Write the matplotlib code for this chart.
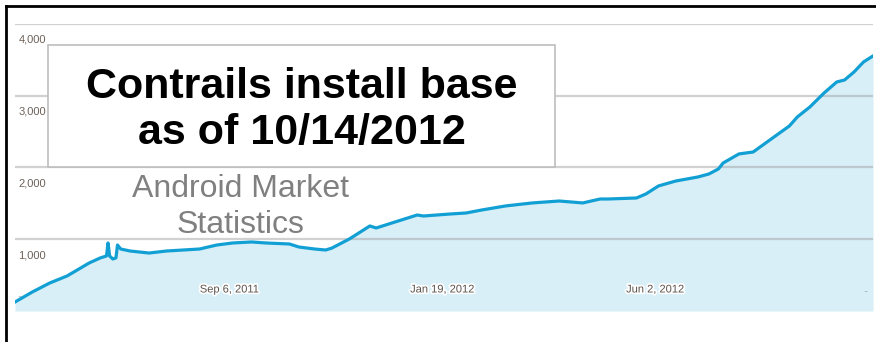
import pandas as pd
import matplotlib.pyplot as plt
import matplotlib.patheffects as pe
from matplotlib.lines import Line2D
from matplotlib.patches import Rectangle
from matplotlib import font_manager

# Daily installs reported by Android Market (sampled)
dates = [
    "2011-04-23", "2011-05-04", "2011-05-15", "2011-05-26", "2011-06-09",
    "2011-06-16", "2011-06-20", "2011-06-21", "2011-06-22", "2011-06-24",
    "2011-06-26", "2011-06-27", "2011-06-29", "2011-07-05", "2011-07-17",
    "2011-07-28", "2011-08-18", "2011-08-29", "2011-09-08", "2011-09-20",
    "2011-09-29", "2011-10-14", "2011-10-20", "2011-10-30", "2011-11-06",
    "2011-11-10", "2011-11-21", "2011-12-04", "2011-12-08", "2011-12-18",
    "2012-01-03", "2012-01-07", "2012-01-24", "2012-02-03", "2012-02-13",
    "2012-02-28", "2012-03-16", "2012-04-02", "2012-04-17", "2012-04-28",
    "2012-05-03", "2012-05-21", "2012-05-27", "2012-06-04", "2012-06-15",
    "2012-06-29", "2012-07-06", "2012-07-12", "2012-07-15", "2012-07-25",
    "2012-08-03", "2012-08-18", "2012-08-26", "2012-08-31", "2012-09-08",
    "2012-09-17", "2012-09-25", "2012-09-30", "2012-10-06", "2012-10-12",
    "2012-10-18",
]
installs = [
    125, 265, 390, 488, 669,
    739, 767, 948, 767, 725,
    740, 920, 864, 836, 808,
    836, 864, 920, 948, 962,
    948, 934, 892, 864, 850,
    878, 1004, 1185, 1157, 1227,
    1338, 1324, 1352, 1366, 1408,
    1464, 1506, 1533, 1506, 1561,
    1561, 1575, 1631, 1743, 1812,
    1868, 1910, 1980, 2063, 2189,
    2216, 2453, 2579, 2704, 2844,
    3039, 3192, 3220, 3332, 3471,
    3555,
]

y_ticks = [1000, 2000, 3000, 4000]
y_labels = ["1,000", "2,000", "3,000", "4,000"]
x_tick_dates = ["2011-09-06", "2012-01-19", "2012-06-02"]
x_labels = ["Sep 6, 2011", "Jan 19, 2012", "Jun 2, 2012"]

df = pd.DataFrame({"date": pd.to_datetime(dates), "installs": installs})

names = {f.name for f in font_manager.fontManager.ttflist}
narrow = "Liberation Sans Narrow" if "Liberation Sans Narrow" in names else "Liberation Sans"

fig = plt.figure(figsize=(8.76, 3.42), dpi=100)
ax = fig.add_axes([15 / 876, 31 / 342, 858 / 876, 287 / 342])

line_color = "#12a0d4"
ax.fill_between(df["date"], df["installs"], 0, color="#d8eff8", lw=0, zorder=1)
ax.plot(df["date"], df["installs"], color=line_color, lw=2.3, zorder=4)

for v, lab in zip(y_ticks, y_labels):
    ax.axhline(v, color="#9a9a9a", alpha=0.45, lw=1.6, zorder=2)
    ax.annotate(lab, xy=(0, v), xycoords=("axes fraction", "data"),
                xytext=(2.5, -11.5), textcoords="offset points",
                fontsize=8, family=narrow, color="#6e625a",
                ha="left", va="center", zorder=5)

halo = [pe.withStroke(linewidth=2.5, foreground="white")]
for d, lab in zip(x_tick_dates, x_labels):
    ax.text(pd.Timestamp(d), 300, lab, fontsize=8, family=narrow,
            color="#5a524c", ha="center", va="center", zorder=5,
            path_effects=halo)
# truncated labels at both ends of the axis
ax.text(0.002, 230 / 4000, "..", transform=ax.transAxes, fontsize=6,
        color="#777777", ha="left", va="center", zorder=5)
ax.text(0.992, 300 / 4000, "..", transform=ax.transAxes, fontsize=6,
        color="#777777", ha="center", va="center", zorder=5)

ax.set_xlim(df["date"].iloc[0], df["date"].iloc[-1])
ax.set_ylim(0, 4000)
ax.axis("off")

# title box
fig.add_artist(Rectangle((48 / 876, 1 - 167 / 342), 507 / 876, 122 / 342,
                         transform=fig.transFigure, facecolor="white",
                         edgecolor="#bdbdbd", lw=1.2, zorder=6))
fig.text(302 / 876, 1 - 110 / 342, "Contrails install base\nas of 10/14/2012",
         family="Liberation Sans", fontweight="bold", fontsize=31,
         linespacing=1.22, ha="center", va="center", color="black", zorder=7)

fig.text(240 / 876, 1 - 207 / 342, "Android Market\nStatistics",
         family="Liberation Sans", fontsize=23, linespacing=1.27,
         ha="center", va="center", color="#808080", zorder=7)

# slide frame, left and top edges
fig.add_artist(Line2D([6 / 876, 6 / 876], [0, 1 - 6 / 342],
                      transform=fig.transFigure, color="black", lw=2))
fig.add_artist(Line2D([6 / 876, 1], [1 - 6 / 342, 1 - 6 / 342],
                      transform=fig.transFigure, color="black", lw=2))

fig.savefig("out.png", dpi=100)
